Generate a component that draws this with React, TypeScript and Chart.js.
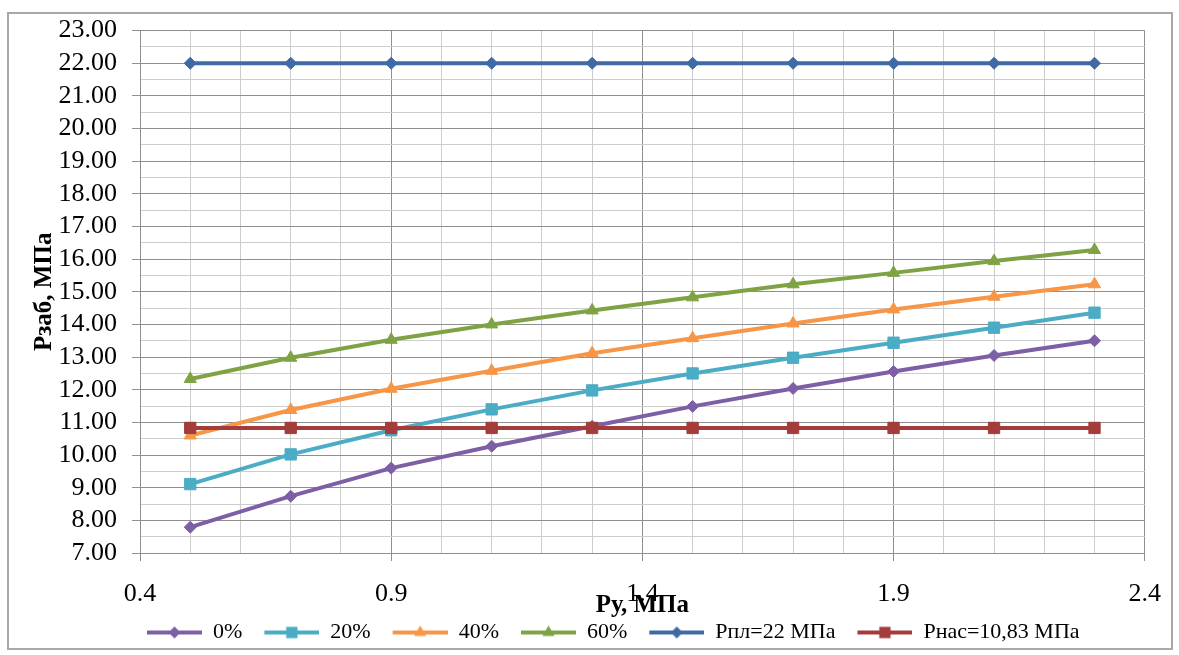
import React, { useEffect, useRef } from 'react';
import { Chart, registerables } from 'chart.js';

Chart.register(...registerables);

const xValues = [0.5, 0.7, 0.9, 1.1, 1.3, 1.5, 1.7, 1.9, 2.1, 2.3];
const p0 = [7.79, 8.74, 9.6, 10.27, 10.88, 11.49, 12.04, 12.56, 13.05, 13.5];
const p20 = [9.11, 10.02, 10.76, 11.4, 11.98, 12.5, 12.98, 13.44, 13.9, 14.36];
const p40 = [10.6, 11.38, 12.03, 12.58, 13.12, 13.58, 14.03, 14.46, 14.85, 15.23];
const p60 = [12.33, 12.98, 13.53, 14.0, 14.43, 14.83, 15.23, 15.58, 15.94, 16.28];
const pPl = [22, 22, 22, 22, 22, 22, 22, 22, 22, 22];
const pNas = [10.83, 10.83, 10.83, 10.83, 10.83, 10.83, 10.83, 10.83, 10.83, 10.83];

const seriesLabels = ['0%', '20%', '40%', '60%', 'Рпл=22 МПа', 'Рнас=10,83 МПа'];
const seriesColors = ['#7D5FA5', '#4BACC6', '#F79646', '#7FA244', '#3F6AA5', '#A33C3A'];
const seriesMarkers = ['rectRot', 'rect', 'triangle', 'triangle', 'rectRot', 'rect'];
const seriesValues = [p0, p20, p40, p60, pPl, pNas];

const xMin = 0.4;
const xMax = 2.4;
const xMajorTicks = [0.4, 0.9, 1.4, 1.9, 2.4];
const yMin = 7;
const yMax = 23;

const FONT = "'Liberation Serif', 'Times New Roman', serif";
const LEGEND_PAD = 7;
const ICON_MARGIN = 15;

function markerRadius(style: string) {
  if (style === 'rect') return 8.5;
  if (style === 'triangle') return 7.5;
  return 6.5;
}

function drawMarker(ctx: CanvasRenderingContext2D, style: string, x: number, y: number, r: number) {
  ctx.beginPath();
  if (style === 'rect') {
    const s = r * Math.SQRT1_2;
    ctx.rect(x - s, y - s, 2 * s, 2 * s);
  } else if (style === 'rectRot') {
    ctx.moveTo(x, y - r);
    ctx.lineTo(x + r, y);
    ctx.lineTo(x, y + r);
    ctx.lineTo(x - r, y);
    ctx.closePath();
  } else {
    const a = -Math.PI / 2;
    for (let i = 0; i < 3; i++) {
      const ang = a + (i * 2 * Math.PI) / 3;
      const px = x + Math.cos(ang) * r;
      const py = y + Math.sin(ang) * r;
      if (i === 0) ctx.moveTo(px, py);
      else ctx.lineTo(px, py);
    }
    ctx.closePath();
  }
  ctx.fill();
}

function makeIcon(color: string, style: string) {
  const c = document.createElement('canvas');
  c.width = ICON_MARGIN + 55;
  c.height = 18;
  const ctx = c.getContext('2d')!;
  ctx.strokeStyle = color;
  ctx.fillStyle = color;
  ctx.lineWidth = 4;
  ctx.beginPath();
  ctx.moveTo(ICON_MARGIN, 9);
  ctx.lineTo(ICON_MARGIN + 55, 9);
  ctx.stroke();
  drawMarker(ctx, style, ICON_MARGIN + 27.5, 9, markerRadius(style) - 0.5);
  return c;
}

const isMajorX = (v: number) => xMajorTicks.some((t) => Math.abs(t - v) < 1e-6);
const isMajorY = (v: number) => Math.abs(v - Math.round(v)) < 1e-6;

const framePlugin = {
  id: 'frame',
  afterLayout(chart: any) {
    if (chart.legend) chart.legend.left = chart.chartArea.left + 7 - LEGEND_PAD - ICON_MARGIN;
  },
  beforeDraw(chart: any) {
    const { ctx } = chart;
    ctx.save();
    ctx.fillStyle = '#ffffff';
    ctx.fillRect(0, 0, chart.width, chart.height);
    ctx.strokeStyle = '#a8a8a8';
    ctx.lineWidth = 2;
    ctx.strokeRect(8, 13, 1164, 636);
    ctx.restore();
  },
};

export default function App() {
  const ref = useRef<HTMLCanvasElement | null>(null);

  useEffect(() => {
    if (!ref.current) return;
    const icons = seriesColors.map((c, i) => makeIcon(c, seriesMarkers[i]));
    const datasets = seriesLabels.map((label, i) => ({
      label,
      data: xValues.map((x, j) => ({ x, y: seriesValues[i][j] })),
      borderColor: seriesColors[i],
      backgroundColor: seriesColors[i],
      pointBackgroundColor: seriesColors[i],
      pointBorderColor: seriesColors[i],
      pointBorderWidth: 1,
      pointStyle: seriesMarkers[i],
      pointRadius: markerRadius(seriesMarkers[i]) - 0.5,
      borderWidth: 4,
      tension: 0,
      fill: false,
      order: seriesLabels.length - 1 - i,
    }));

    const chart = new Chart(ref.current, {
      type: 'line',
      data: { datasets },
      plugins: [framePlugin],
      options: {
        animation: false,
        responsive: false,
        maintainAspectRatio: false,
        layout: { padding: { left: 0, right: 32, top: 29.5, bottom: 1.5 } },
        plugins: {
          tooltip: { enabled: false },
          legend: {
            position: 'bottom',
            align: 'start',
            labels: {
              usePointStyle: true,
              pointStyleWidth: ICON_MARGIN + 55,
              boxHeight: 18,
              padding: LEGEND_PAD,
              color: '#000',
              font: { family: FONT, size: 22 },
              generateLabels: (ch: any) =>
                ch.data.datasets.map((ds: any, i: number) => ({
                  text: ds.label,
                  pointStyle: icons[i],
                  fillStyle: 'rgba(0,0,0,0)',
                  strokeStyle: 'rgba(0,0,0,0)',
                  lineWidth: 0,
                  hidden: false,
                  datasetIndex: i,
                  fontColor: '#000',
                })),
            },
          },
        },
        scales: {
          x: {
            type: 'linear',
            min: xMin,
            max: xMax,
            afterFit: (s: any) => {
              s.height = 61.5;
            },
            ticks: {
              stepSize: 0.1,
              autoSkip: false,
              maxRotation: 0,
              padding: 18,
              color: '#000',
              font: { family: FONT, size: 26 },
              callback: (v: any) => (isMajorX(Number(v)) ? Number(v).toFixed(1) : ''),
            },
            grid: {
              color: (c: any) => (isMajorX(c.tick.value) ? '#8f8f8f' : '#cdcdcd'),
              tickColor: (c: any) => (isMajorX(c.tick.value) ? '#8f8f8f' : 'rgba(0,0,0,0)'),
              tickLength: 8,
              lineWidth: 1,
            },
            border: { color: '#8f8f8f', width: 1 },
            title: {
              display: true,
              text: 'Ру, МПа',
              color: '#000',
              font: { family: FONT, size: 25, weight: 'bold' },
              padding: { top: 0, bottom: -6 },
            },
          },
          y: {
            type: 'linear',
            min: yMin,
            max: yMax,
            afterFit: (s: any) => {
              s.width = 140;
            },
            ticks: {
              stepSize: 0.5,
              autoSkip: false,
              padding: 15,
              color: '#000',
              font: { family: FONT, size: 26 },
              callback: (v: any) => (isMajorY(Number(v)) ? Number(v).toFixed(2) : ''),
            },
            grid: {
              color: (c: any) => (isMajorY(c.tick.value) ? '#8f8f8f' : '#cdcdcd'),
              tickColor: (c: any) => (isMajorY(c.tick.value) ? '#8f8f8f' : 'rgba(0,0,0,0)'),
              tickLength: 8,
              lineWidth: 1,
            },
            border: { color: '#8f8f8f', width: 1 },
            title: {
              display: true,
              text: 'Рзаб, МПа',
              color: '#000',
              font: { family: FONT, size: 25, weight: 'bold' },
              padding: { top: 30, bottom: 0 },
            },
          },
        },
      },
    } as any);

    return () => chart.destroy();
  }, []);

  return (
    <div style={{ position: 'absolute', left: 0, top: 0, width: 1179, height: 655, background: '#fff' }}>
      <canvas ref={ref} width={1179} height={655} style={{ display: 'block', width: 1179, height: 655 }} />
    </div>
  );
}
